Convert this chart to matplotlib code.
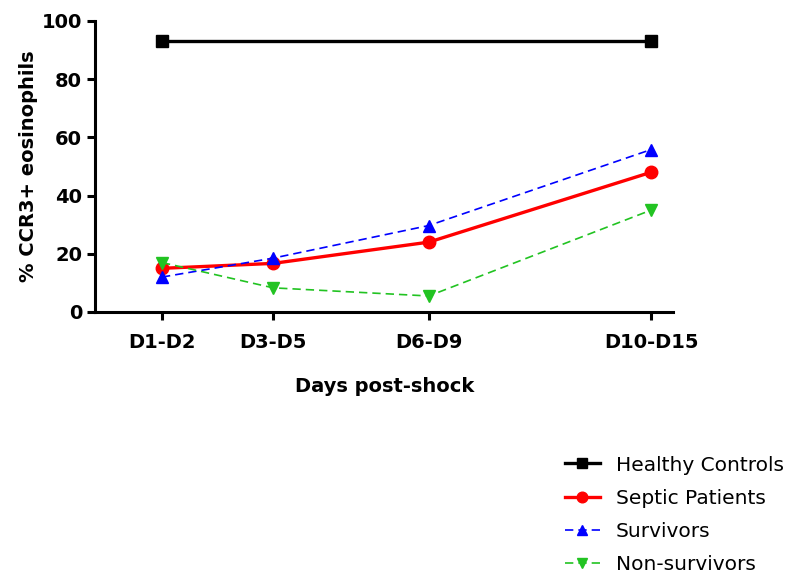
import matplotlib.pyplot as plt

# x positions are mid-points of the day ranges
days = [1.5, 4, 7.5, 12.5]
day_labels = ["D1-D2", "D3-D5", "D6-D9", "D10-D15"]

healthy = [93, 93]
septic = [15, 16.7, 24, 48]
survivors = [12, 18.5, 29.7, 55.8]
non_survivors = [17, 8.3, 5.5, 35]

plt.rcParams['font.family'] = ['DejaVu Sans']

fig = plt.figure(figsize=(7.94, 5.73), dpi=100)
ax = fig.add_axes([0.12, 0.4555, 0.728, 0.508])

ax.plot([days[0], days[-1]], healthy, color='black', lw=2.4, marker='s',
        ms=9, label='Healthy Controls', clip_on=False, zorder=3)
ax.plot(days, septic, color='#ff0000', lw=2.4, marker='o', ms=9,
        label='Septic Patients', clip_on=False, zorder=4)
ax.plot(days, survivors, color='#0000ff', lw=1.2, ls=(0, (5, 3)), marker='^',
        ms=8, label='Survivors', clip_on=False, zorder=5)
ax.plot(days, non_survivors, color='#22c322', lw=1.2, ls=(0, (5, 3)), marker='v',
        ms=8, label='Non-survivors', clip_on=False, zorder=5)

ax.set_xlim(0, 13)
ax.set_ylim(0, 100)
ax.set_xticks(days)
ax.set_xticklabels(day_labels, fontsize=14, fontweight='bold')
ax.set_yticks([0, 20, 40, 60, 80, 100])
ax.set_yticklabels(['0', '20', '40', '60', '80', '100'], fontsize=14, fontweight='bold')
ax.set_xlabel('Days post-shock', fontsize=14, fontweight='bold', labelpad=18)
ax.set_ylabel('% CCR3+ eosinophils', fontsize=14, fontweight='bold', labelpad=3)

for side in ['top', 'right']:
    ax.spines[side].set_visible(False)
for side in ['left', 'bottom']:
    ax.spines[side].set_linewidth(2.2)
ax.tick_params(direction='out', width=2.2, length=6, colors='black')
ax.tick_params(axis='x', pad=9)

fig.legend(loc='upper left', bbox_to_anchor=(0.711, 0.205), frameon=False,
           fontsize=14.5, handlelength=1.75, labelspacing=0.7, handletextpad=0.8,
           markerscale=0.85, borderaxespad=0, borderpad=0)

fig.savefig('out.png', dpi=100)
